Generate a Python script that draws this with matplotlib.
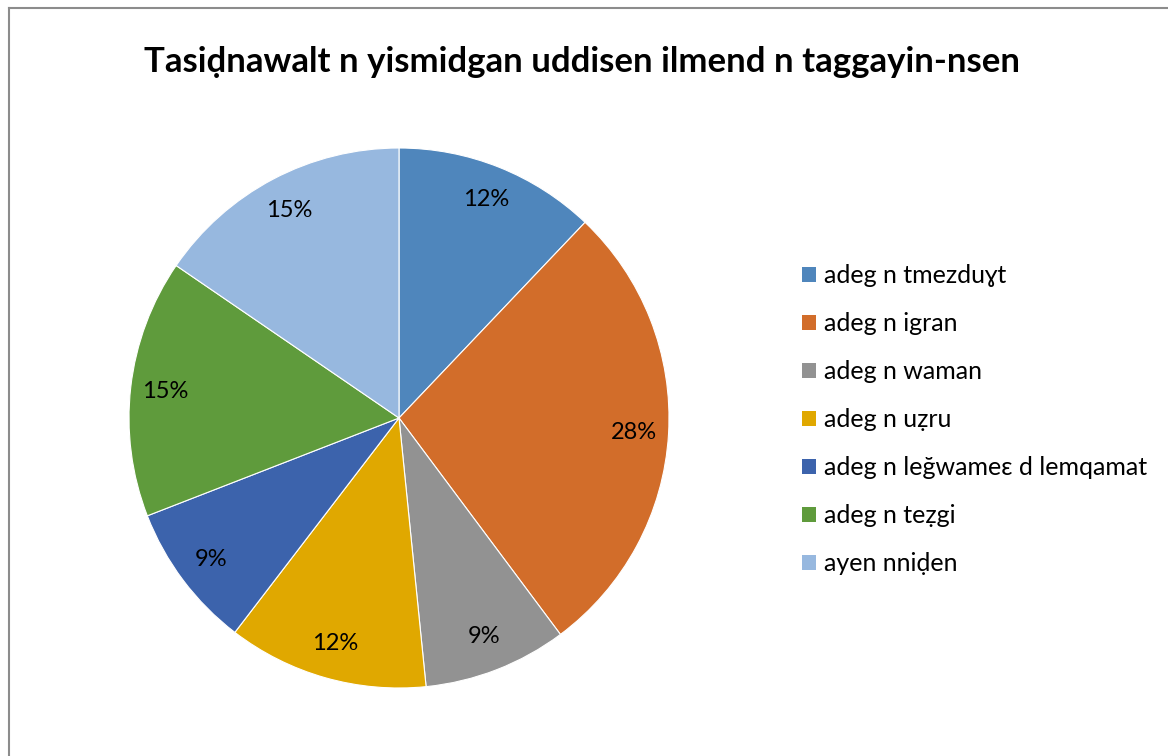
import matplotlib.pyplot as plt
from matplotlib.lines import Line2D
from matplotlib.patches import Patch

plt.rcParams['font.family'] = ['Lato', 'Noto Sans', 'DejaVu Sans']

title = "Tasiḍnawalt n yismidgan uddisen ilmend n taggayin-nsen"
labels = ["adeg n tmezduɣt", "adeg n igran", "adeg n waman", "adeg n uẓru",
          "adeg n leğwameɛ d lemqamat", "adeg n teẓgi", "ayen nniḍen"]
shares = [12.1, 27.7, 8.6, 12.0, 8.7, 15.45, 15.45]  # percent
colors = ["#4F86BC", "#D26D2A", "#929292", "#E0A800", "#3C63AC", "#5F9B3C", "#97B8DF"]

W, H = 1168, 756
fig = plt.figure(figsize=(W / 100, H / 100), dpi=100)

# pie centre (399, 418) px, radius 270 px
cx, cy, r = 399, 418, 270
ax = fig.add_axes([(cx - r) / W, (H - cy - r) / H, 2 * r / W, 2 * r / H])
wedges, texts, autotexts = ax.pie(
    shares, colors=colors, startangle=90, counterclock=False,
    autopct='%.0f%%', pctdistance=0.87,
    wedgeprops=dict(edgecolor='white', linewidth=0.8, clip_on=False),
    textprops=dict(fontsize=17, color='black'))
ax.set_xlim(-1, 1)
ax.set_ylim(-1, 1)
ax.set_aspect('equal')

fig.text(582 / W, 1 - 62 / H, title, ha='center', va='center',
         fontsize=25, fontweight='bold')

handles = [Patch(facecolor=c, edgecolor='none') for c in colors]
fig.legend(handles, labels, loc='upper left', bbox_to_anchor=(792 / W, 1 - 254 / H),
           frameon=False, fontsize=18, handlelength=0.55, handleheight=0.55,
           handletextpad=0.35, labelspacing=1.0, borderaxespad=0)

# chart border (only top and left visible in the crop)
fig.add_artist(Line2D([9 / W, 9 / W], [0, 1 - 8 / H], color='#8c8c8c', lw=1.5))
fig.add_artist(Line2D([9 / W, 1], [1 - 8 / H, 1 - 8 / H], color='#8c8c8c', lw=1.5))

fig.savefig("out.png", dpi=100, facecolor='white')
